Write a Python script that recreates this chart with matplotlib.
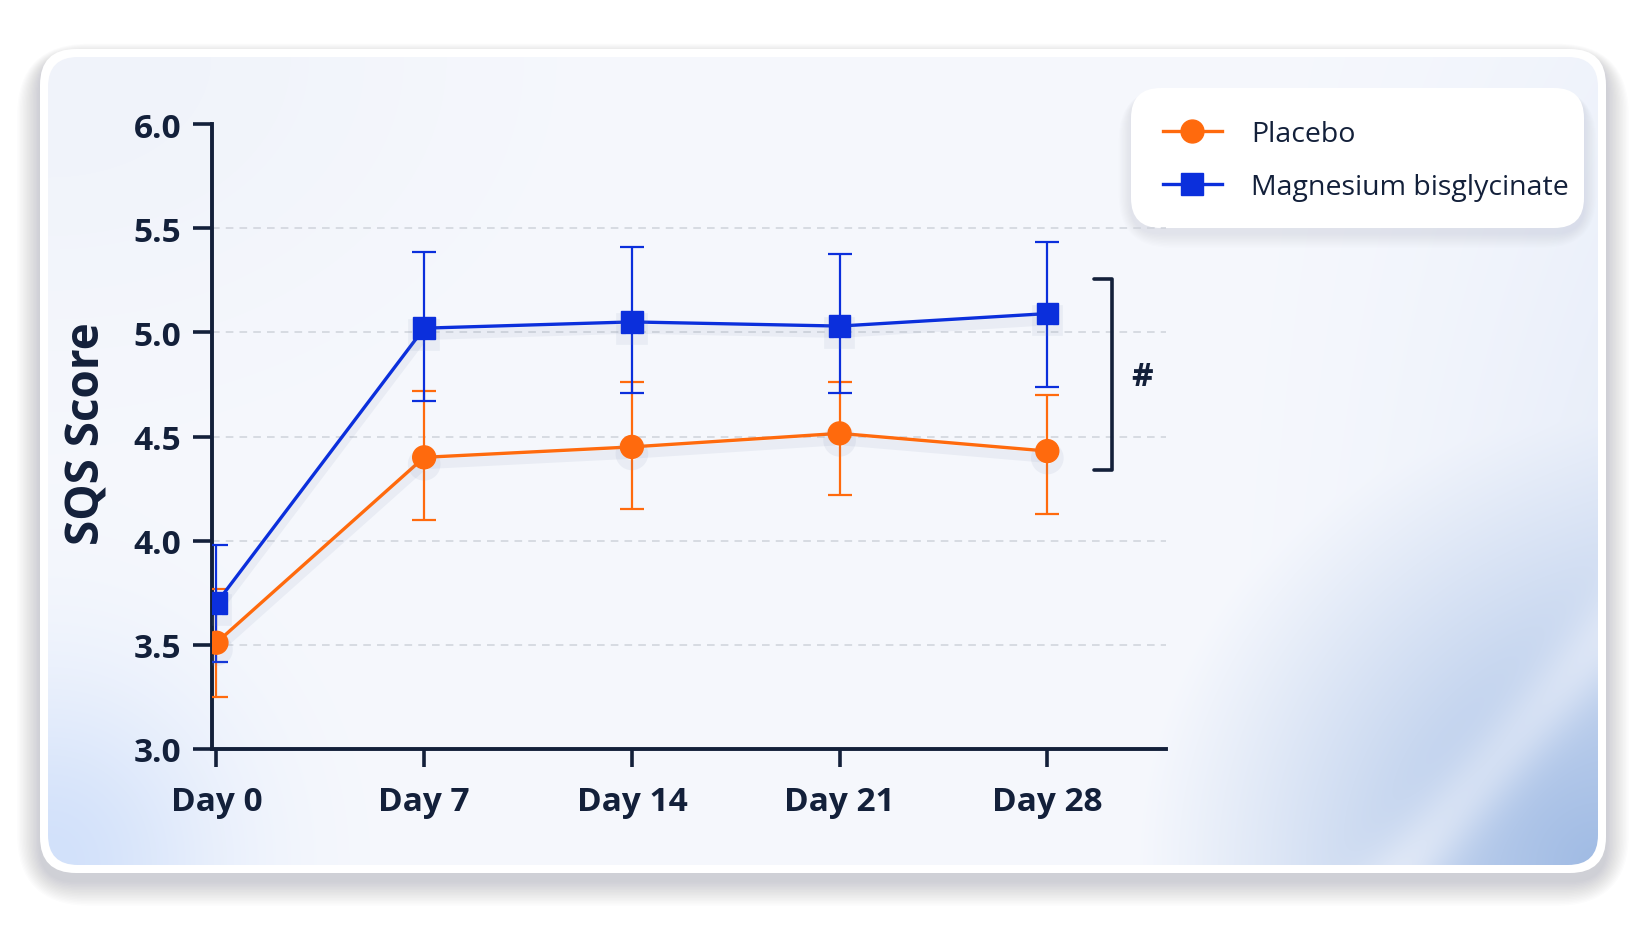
import numpy as np
import matplotlib
matplotlib.use("Agg")
import matplotlib.pyplot as plt
from matplotlib.patches import FancyBboxPatch
import matplotlib.patheffects as pe

# ---------------- data ----------------
days = [0, 7, 14, 21, 28]
day_labels = ["Day 0", "Day 7", "Day 14", "Day 21", "Day 28"]

placebo_mean = [3.51, 4.40, 4.45, 4.515, 4.43]
placebo_low = [3.25, 4.10, 4.15, 4.22, 4.13]
placebo_high = [3.77, 4.72, 4.76, 4.76, 4.70]

mag_mean = [3.70, 5.02, 5.05, 5.03, 5.09]
mag_low = [3.42, 4.67, 4.71, 4.71, 4.74]
mag_high = [3.98, 5.385, 5.41, 5.375, 5.435]

series_names = ["Placebo", "Magnesium bisglycinate"]
y_ticks = [3.0, 3.5, 4.0, 4.5, 5.0, 5.5, 6.0]
grid_levels = [3.5, 4.0, 4.5, 5.0, 5.5]
bracket_top, bracket_bottom = 5.256, 4.34
sig_label = "#"

# ---------------- style ----------------
W, H = 1650, 953
DPI = 100
ORANGE = "#ff6a0d"
BLUE = "#0b2fdc"
NAVY = "#13203a"
FONT = ["Open Sans", "DejaVu Sans"]
plt.rcParams["font.family"] = FONT

fig = plt.figure(figsize=(W / DPI, H / DPI), dpi=DPI)
fig.patch.set_facecolor("white")

# background axes in pixel coordinates
bg = fig.add_axes([0, 0, 1, 1], zorder=-10)
bg.set_xlim(0, W)
bg.set_ylim(H, 0)
bg.axis("off")

# card shadow
cx0, cy0, cx1, cy1 = 40, 50, 1606, 874
for i in range(16):
    g = 2 + i * 2.4
    sh = FancyBboxPatch((cx0 - g * 0.6, cy0 - g * 0.35 + 8), (cx1 - cx0) + g * 1.2, (cy1 - cy0) + g * 1.0,
                        boxstyle="round,pad=0,rounding_size=%f" % (34 + g),
                        facecolor=(0.3, 0.33, 0.4), edgecolor="none", alpha=0.016, zorder=0)
    bg.add_patch(sh)

outer = FancyBboxPatch((cx0, cy0), cx1 - cx0, cy1 - cy0,
                       boxstyle="round,pad=0,rounding_size=36",
                       facecolor="white", edgecolor="none", zorder=1)
bg.add_patch(outer)

ix0, iy0, ix1, iy1 = 48, 58, 1598, 866
inner = FancyBboxPatch((ix0, iy0), ix1 - ix0, iy1 - iy0,
                       boxstyle="round,pad=0,rounding_size=30",
                       facecolor="none", edgecolor="none", zorder=2)
bg.add_patch(inner)

# gradient
nx, ny = 500, 280
u = np.linspace(0, 1, nx)[None, :]
v = np.linspace(0, 1, ny)[:, None]
base = np.array([246, 248, 253]) / 255.0
img = np.ones((ny, nx, 3)) * base
# top-left slight grey-blue
w_tl = np.exp(-((u) ** 2 / 0.06 + (v) ** 2 / 0.12)) * 0.6
img = img * (1 - w_tl[..., None]) + np.array([236, 240, 248]) / 255.0 * w_tl[..., None]
# bottom-left blue tint
w_bl = np.exp(-((u) ** 2 / 0.012 + (1 - v) ** 2 / 0.05))
img = img * (1 - w_bl[..., None]) + np.array([210, 225, 250]) / 255.0 * w_bl[..., None]
# right side faint tint
w_r = np.clip((u - 0.7) / 0.3, 0, 1) ** 2 * (0.25 + 0.55 * v)
img = img * (1 - w_r[..., None]) + np.array([220, 229, 246]) / 255.0 * w_r[..., None]
# bottom-right blue corner
r = np.sqrt(((1 - u) / 0.30) ** 2 + ((1 - v) / 0.55) ** 2)
w_br = np.clip(1 - r, 0, 1) ** 1.1
streak = 0.35 * np.exp(-((u * 1.0 + v * 0.45 - 1.33) ** 2) / 0.0008)
w_br = np.clip(w_br - streak * (w_br > 0), 0, 1)
img = img * (1 - w_br[..., None]) + np.array([160, 187, 228]) / 255.0 * w_br[..., None]
im = bg.imshow(img, extent=(ix0, ix1, iy1, iy0), aspect="auto", zorder=2, interpolation="bicubic")
im.set_clip_path(inner)

# legend box (white rounded with shadow)
lx0, ly0, lx1, ly1 = 1131, 89, 1584, 229
for i in range(10):
    g = 2 + i * 2.5
    sh = FancyBboxPatch((lx0 - g * 0.5, ly0 - g * 0.2 + 5), (lx1 - lx0) + g, (ly1 - ly0) + g * 0.8,
                        boxstyle="round,pad=0,rounding_size=%f" % (28 + g),
                        facecolor=(0.4, 0.45, 0.6), edgecolor="none", alpha=0.012, zorder=3)
    bg.add_patch(sh)
bg.add_patch(FancyBboxPatch((lx0, ly0), lx1 - lx0, ly1 - ly0,
                            boxstyle="round,pad=0,rounding_size=30",
                            facecolor="white", edgecolor="none", zorder=4))

# ---------------- main axes ----------------
ax = fig.add_axes([212 / W, 1 - 750 / H, (1166 - 212) / W, (750 - 125) / H])
ax.patch.set_alpha(0)
ax.set_xlim(-0.15, 32.0)
ax.set_ylim(3.0, 6.0)

for yv in grid_levels:
    ax.axhline(yv, color="#cfd3db", lw=1.1, ls=(0, (5, 4)), zorder=1)

shadow = [pe.SimpleLineShadow(offset=(0, -5), shadow_color="#8090b0", alpha=0.10, linewidth=7), pe.Normal()]

def plot_series(mean, low, high, color, marker, ms, name):
    mean = np.array(mean)
    yerr = [mean - np.array(low), np.array(high) - mean]
    ax.errorbar(days, mean, yerr=yerr, fmt="none", ecolor=color, elinewidth=1.6,
                capsize=8.5, capthick=1.6, zorder=3)
    line, = ax.plot(days, mean, color=color, lw=2.4, marker=marker, ms=ms,
                    markerfacecolor=color, markeredgecolor=color, zorder=4, label=name,
                    path_effects=shadow)
    return line

l1 = plot_series(placebo_mean, placebo_low, placebo_high, ORANGE, "o", 16.5, series_names[0])
l2 = plot_series(mag_mean, mag_low, mag_high, BLUE, "s", 15.5, series_names[1])

for s in ["top", "right"]:
    ax.spines[s].set_visible(False)
for s in ["left", "bottom"]:
    ax.spines[s].set_color(NAVY)
    ax.spines[s].set_linewidth(2.8)

ax.set_xticks(days)
ax.set_xticklabels(day_labels)
ax.set_yticks(y_ticks)
ax.set_yticklabels([f"{t:.1f}" for t in y_ticks])
ax.tick_params(axis="both", direction="out", length=14, width=2.6, color=NAVY,
               labelcolor=NAVY, labelsize=24, pad=8)
ax.tick_params(axis="x", length=13, pad=13)
for lab in ax.get_xticklabels() + ax.get_yticklabels():
    lab.set_fontweight("bold")

ax.set_ylabel("SQS Score", fontsize=33, fontweight="bold", color=NAVY)
ax.yaxis.set_label_coords(-0.106, 0.506)

# significance bracket
bx = 30.17
arm = 29.56
ax.plot([arm, bx, bx, arm], [bracket_top, bracket_top, bracket_bottom, bracket_bottom],
        color=NAVY, lw=2.6, solid_joinstyle="round", solid_capstyle="round", clip_on=False, zorder=5)
ax.text(31.2, (bracket_top + bracket_bottom) / 2 - 0.01, sig_label, fontsize=24, fontweight="bold",
        color=NAVY, ha="center", va="center", clip_on=False)

# legend
leg = fig.legend(handles=[l1, l2], labels=series_names, loc="upper left",
                 bbox_to_anchor=(1154 / W, 1 - 112 / H), frameon=False, fontsize=20.5,
                 handlelength=2.1, handletextpad=1.0, labelspacing=0.88, borderaxespad=0,
                 borderpad=0.3)
for t in leg.get_texts():
    t.set_color(NAVY)
for h in leg.legend_handles:
    h.set_path_effects([])

fig.savefig("out.png", dpi=DPI, facecolor="white")
